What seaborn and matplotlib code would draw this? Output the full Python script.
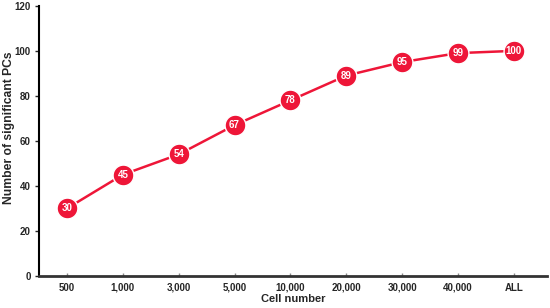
import matplotlib
matplotlib.use("Agg")
import matplotlib.pyplot as plt
import seaborn as sns
import pandas as pd

categories = ["500", "1,000", "3,000", "5,000", "10,000", "20,000", "30,000", "40,000", "ALL"]
values = [30, 45, 54, 67, 78, 89, 95, 99, 100]

sns.set_style("white")
plt.rcParams['font.family'] = ['Liberation Sans', 'DejaVu Sans']

df = pd.DataFrame({"cells": categories, "pcs": values})

fig = plt.figure(figsize=(5.5, 3.08), dpi=100)
ax = fig.add_axes([0.071, 0.104, 0.924, 0.877])

red = "#EE1638"
sns.lineplot(data=df, x="cells", y="pcs", ax=ax, color=red, linewidth=1.8,
             marker="o", markersize=15, markerfacecolor=red,
             markeredgecolor="white", markeredgewidth=1.0, sort=False)

for i, v in enumerate(values):
    ax.text(i, v, str(v), ha="center", va="center", color="white",
            fontsize=7, fontweight="bold", zorder=5)

ax.set_xlim(-0.5, 8.6)
ax.set_ylim(0, 120)
ax.set_yticks(range(0, 121, 20))
ax.set_xlabel("Cell number", fontsize=8, fontweight="bold")
ax.set_ylabel("Number of significant PCs", fontsize=8.7, fontweight="bold")
ax.yaxis.set_label_coords(-0.048, 0.55)
ax.xaxis.set_label_coords(0.5, -0.068)

for lbl in ax.get_xticklabels() + ax.get_yticklabels():
    lbl.set_fontweight("bold")
ax.tick_params(axis="y", labelsize=7, length=3, width=1, direction="out", left=True, pad=3)
ax.tick_params(axis="x", labelsize=7, length=2, width=1, direction="in", bottom=True, pad=5, color="#888888")

sns.despine(ax=ax)
ax.spines["left"].set_color("black")
ax.spines["left"].set_linewidth(1.5)
ax.spines["bottom"].set_color("#333333")
ax.spines["bottom"].set_linewidth(2.0)

fig.savefig("out.png", dpi=100)
